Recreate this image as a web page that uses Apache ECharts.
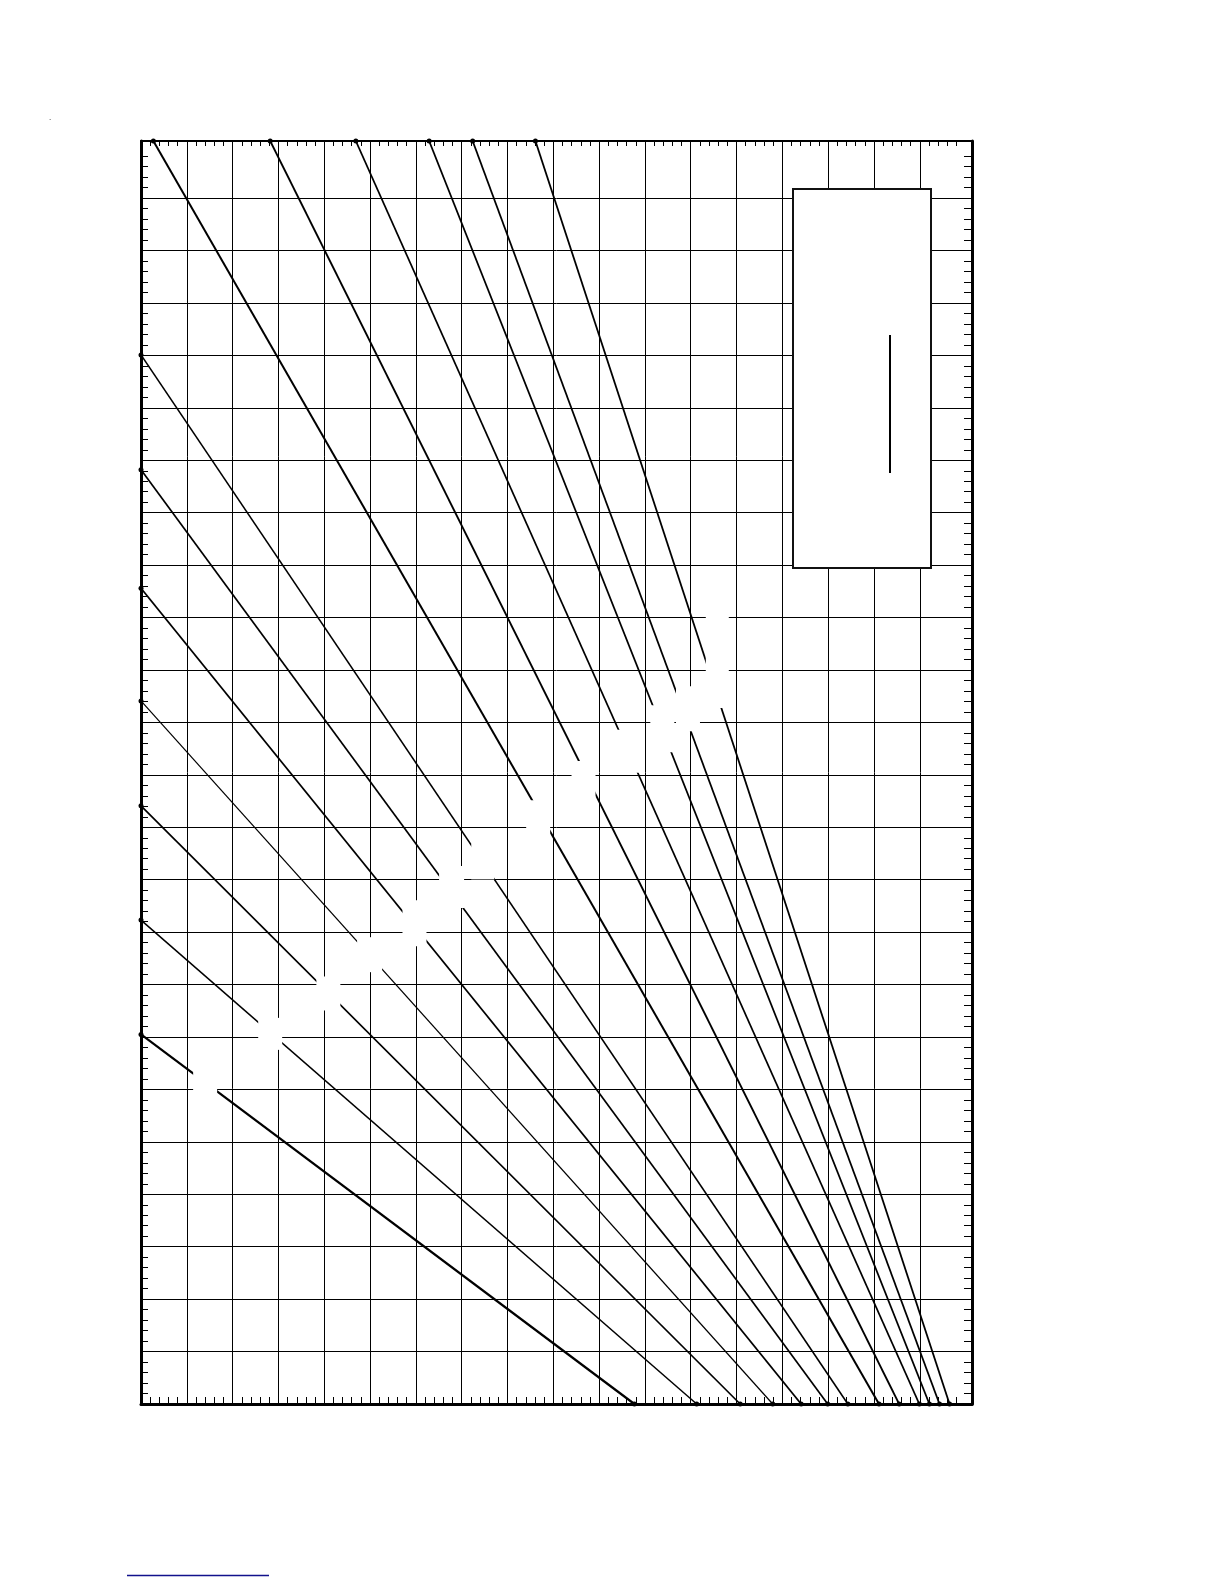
<!DOCTYPE html>
<html><head><meta charset="utf-8">
<script src="https://cdn.jsdelivr.net/npm/echarts@6/dist/echarts.min.js"></script>
<style>html,body{margin:0;padding:0;background:#fff}#c{width:1224px;height:1584px}</style>
</head><body><div id="c"></div>
<script>
// ---- data (grid units; no printed labels in the reference) ----
const xMax = 18.14, yMax = 24.09;      // plot extent
const xGridMax = 17, yGridMax = 23;    // last drawn grid lines
const lineNames = ['L1','L2','L3','L4','L5','L6','L7','A','B','C','D','E','F'];
const startX = [0, 0, 0, 0, 0, 0, 0, 0.27, 2.82, 4.69, 6.29, 7.24, 8.61];
const startY = [7.05, 9.23, 11.41, 13.41, 15.56, 17.82, 20.01, 24.09, 24.09, 24.09, 24.09, 24.09, 24.09];
const endX   = [10.77, 12.13, 13.08, 13.79, 14.41, 14.99, 15.43, 16.11, 16.55, 16.99, 17.21, 17.43, 17.65];
const endY   = [0, 0, 0, 0, 0, 0, 0, 0, 0, 0, 0, 0, 0];
// centres of the blank label boxes that interrupt each line
const gapX = [1.40, 2.82, 4.09, 4.99, 5.97, 6.78, 7.46, 8.67, 9.66, 10.63, 11.38, 11.94, 12.58];
const gapY = [6.14, 7.06, 7.83, 8.57, 9.17, 9.86, 10.35, 11.17, 11.92, 12.45, 12.88, 13.26, 14.23];

// ---- styles ----
const lineWidths = [2.2, 1.5, 1.7, 1.2, 1.8, 1.7, 1.6, 2.0, 1.8, 1.8, 1.8, 1.8, 1.8];
const boxSizes = [[24,34],[24,32],[24,34],[25,35],[24,46],[25,42],[23,36],[24,36],[24,36],[24,43],[24,47],[24,45],[23,100]];

const G = {left: 141, top: 141, width: 831, height: 1263};
const ux = G.width / xMax, uy = G.height / yMax;

function minorTicks(maxMajor) {
  const v = [];
  for (let i = 0; i <= maxMajor * 5 + 4; i++) v.push(+(i * 0.2).toFixed(1));
  return v;
}
const tickX = minorTicks(xGridMax);
const tickY = minorTicks(yGridMax);

const hidden = {axisLine:{show:false}, axisTick:{show:false}, axisLabel:{show:false}, splitLine:{show:false}};
function frameAxis(extra, len, lw, ticks, max) {
  return Object.assign({
    type: 'value', min: 0, max: max, interval: 0.2,
    axisLine: {show: true, onZero: false, lineStyle: {color: '#000', width: lw}},
    axisTick: {show: true, inside: true, length: len, customValues: ticks, lineStyle: {color: '#000', width: 1}},
    axisLabel: {show: false}, splitLine: {show: false}
  }, extra);
}

const chart = echarts.init(document.getElementById('c'), null, {renderer: 'canvas'});
const series = lineNames.map((n, i) => ({
  type: 'line', name: n, xAxisIndex: 0, yAxisIndex: 0, z: 2, clip: false,
  data: [[startX[i], startY[i]], [endX[i], endY[i]]],
  symbol: 'circle', symbolSize: 5, showSymbol: true,
  lineStyle: {color: '#000', width: lineWidths[i]},
  itemStyle: {color: '#000'},
  emphasis: {disabled: true},
  markPoint: {
    silent: true, z: 5, animation: false,
    symbol: 'rect', symbolSize: boxSizes[i],
    itemStyle: {color: '#fff'}, label: {show: false},
    data: [{coord: [gapX[i], gapY[i]]}]
  }
}));

chart.setOption({
  animation: false,
  backgroundColor: '#fff',
  grid: [
    {left: G.left, top: G.top, width: G.width, height: G.height},
    {left: G.left, top: G.top, width: xGridMax * ux, height: G.height},
    {left: G.left, top: G.top + G.height - yGridMax * uy, width: G.width, height: yGridMax * uy}
  ],
  xAxis: [
    frameAxis({gridIndex: 0, position: 'bottom'}, 7, 3, tickX, xMax),
    frameAxis({gridIndex: 0, position: 'top'}, 5, 2, tickX, xMax),
    Object.assign({}, hidden, {gridIndex: 1, type: 'value', min: 0, max: xGridMax, interval: 1,
      splitLine: {show: true, lineStyle: {color: '#000', width: 1}}}),
    Object.assign({}, hidden, {gridIndex: 2, type: 'value', min: 0, max: xMax})
  ],
  yAxis: [
    frameAxis({gridIndex: 0, position: 'left'}, 7, 3, tickY, yMax),
    frameAxis({gridIndex: 0, position: 'right'}, 8, 3, tickY, yMax),
    Object.assign({}, hidden, {gridIndex: 1, type: 'value', min: 0, max: yMax}),
    Object.assign({}, hidden, {gridIndex: 2, type: 'value', min: 0, max: yGridMax, interval: 1,
      splitLine: {show: true, lineStyle: {color: '#000', width: 1}}})
  ],
  legend: {
    show: true, left: 793, top: 189, orient: 'vertical',
    padding: [146, 40, 95, 96],
    itemWidth: 2, itemHeight: 138, icon: 'rect',
    formatter: () => '',
    backgroundColor: '#fff', borderColor: '#111', borderWidth: 2,
    itemStyle: {color: '#000', borderWidth: 0},
    selectedMode: false,
    data: [lineNames[0]]
  },
  graphic: [
    {type: 'text', left: 49, top: 114, silent: true, style: {text: '.', fontSize: 8, fill: '#000', fontFamily: 'Liberation Sans'}},
    {type: 'line', silent: true, shape: {x1: 127, y1: 1575.5, x2: 269, y2: 1575.5}, style: {stroke: '#12128c', lineWidth: 1.5}}
  ],
  series: series
});
</script>
</body></html>
